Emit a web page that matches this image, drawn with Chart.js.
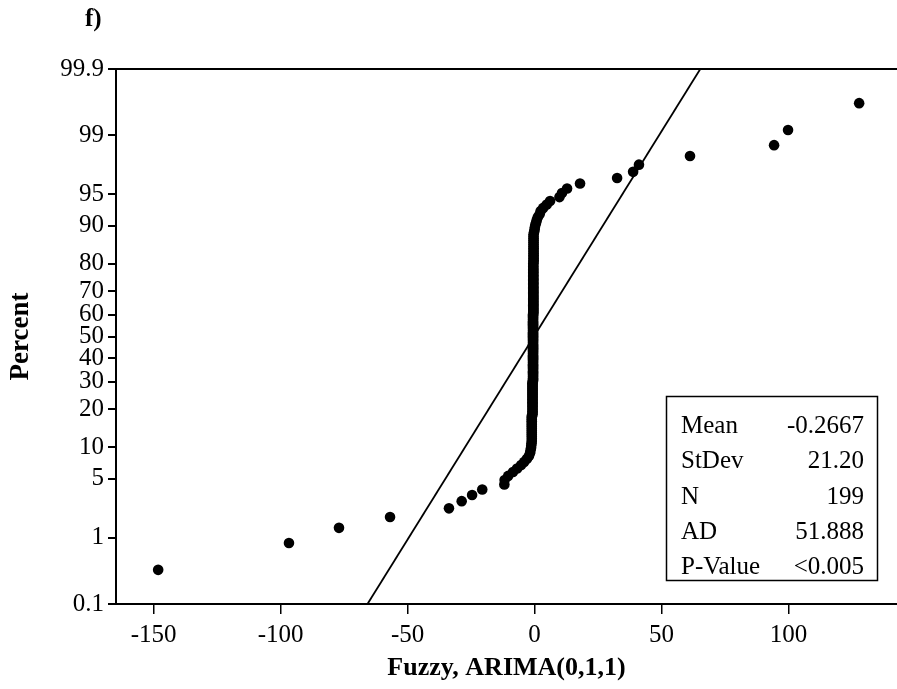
<!DOCTYPE html>
<html><head><meta charset="utf-8">
<script src="https://cdn.jsdelivr.net/npm/chart.js@4.4.1/dist/chart.umd.min.js"></script>
<style>html,body{margin:0;padding:0;background:#fff}#wrap{width:897px;height:689px}</style>
</head><body><div id="wrap"><canvas id="c" width="897" height="689"></canvas></div>
<script>
const chartLabel = 'f)';
const xAxisTitle = 'Fuzzy, ARIMA(0,1,1)';
const yAxisTitle = 'Percent';
const xTickValues = [-150, -100, -50, 0, 50, 100];
const yTickPercents = [0.1, 1, 5, 10, 20, 30, 40, 50, 60, 70, 80, 90, 95, 99, 99.9];
const statLabels = ['Mean', 'StDev', 'N', 'AD', 'P-Value'];
const statValues = ['-0.2667', '21.20', '199', '51.888', '<0.005'];
const fitMean = -0.2667;
const fitStDev = 21.20;
// residuals, sorted ascending
const sortedValues = [
  -148.2, -96.7, -77.0, -56.9, -33.7, -28.7, -24.6, -20.6, -11.9, -11.8,
  -10.4, -8.5, -6.9, -5.3, -4.1, -3.0, -2.2, -1.8,
  -1.6, -1.4, -1.3, -1.2,
  -1.1, -1.1, -1.1, -1.1, -1.1, -1.1, -1.1, -1.1, -1.1, -1.1, -1.1, -1.1, -1.1, -1.1,
  -0.8, -0.8, -0.8, -0.8, -0.8, -0.8, -0.8, -0.8, -0.8, -0.8, -0.8, -0.8,
  -0.8, -0.8, -0.8, -0.8, -0.8, -0.8, -0.8, -0.8, -0.8, -0.8, -0.8, -0.8,
  -0.6, -0.6, -0.6, -0.6, -0.6, -0.6, -0.6, -0.6, -0.6, -0.6, -0.6, -0.6, -0.6, -0.6, -0.6,
  -0.6, -0.6, -0.6, -0.6, -0.6, -0.6, -0.6, -0.6, -0.6, -0.6, -0.6, -0.6, -0.6, -0.6, -0.6,
  -0.6, -0.6, -0.6, -0.6, -0.6, -0.6, -0.6, -0.6, -0.6, -0.6, -0.6, -0.6, -0.6, -0.6, -0.6,
  -0.6, -0.6, -0.6, -0.6, -0.6, -0.6, -0.6, -0.6, -0.6, -0.6, -0.6, -0.6, -0.6, -0.6, -0.6,
  -0.5, -0.5, -0.5, -0.5, -0.5, -0.5, -0.5, -0.5, -0.5, -0.5, -0.5, -0.5, -0.5, -0.5, -0.5, -0.5, -0.5, -0.5, -0.5, -0.5,
  -0.5, -0.5, -0.5, -0.5, -0.5, -0.5, -0.5, -0.5, -0.5, -0.5, -0.5, -0.5, -0.5, -0.5, -0.5, -0.5, -0.5, -0.5, -0.5, -0.5,
  -0.4, -0.4, -0.4, -0.4, -0.4, -0.4, -0.4, -0.4, -0.4, -0.4, -0.4, -0.4, -0.4, -0.4, -0.4, -0.4,
  -0.2, 0.0, 0.1, 0.3, 0.6, 0.9, 1.3, 2.0, 2.4, 3.4,
  4.8, 6.1, 9.8, 10.8, 12.8, 17.9, 32.5, 38.8, 41.1, 61.2,
  94.3, 99.8, 127.8
];

// inverse standard normal CDF (probability-scale transform)
function probit(p) {
  const a = [-3.969683028665376e+01, 2.209460984245205e+02, -2.759285104469687e+02, 1.383577518672690e+02, -3.066479806614716e+01, 2.506628277459239e+00];
  const b = [-5.447609879822406e+01, 1.615858368580409e+02, -1.556989798598866e+02, 6.680131188771972e+01, -1.328068155288572e+01];
  const c = [-7.784894002430293e-03, -3.223964580411365e-01, -2.400758277161838e+00, -2.549732539343734e+00, 4.374664141464968e+00, 2.938163982698783e+00];
  const d = [7.784695709041462e-03, 3.224671290700398e-01, 2.445134137142996e+00, 3.754408661907416e+00];
  const pl = 0.02425, ph = 1 - pl;
  let q, r;
  if (p < pl) { q = Math.sqrt(-2 * Math.log(p)); return (((((c[0]*q+c[1])*q+c[2])*q+c[3])*q+c[4])*q+c[5]) / ((((d[0]*q+d[1])*q+d[2])*q+d[3])*q+1); }
  if (p > ph) { q = Math.sqrt(-2 * Math.log(1 - p)); return -(((((c[0]*q+c[1])*q+c[2])*q+c[3])*q+c[4])*q+c[5]) / ((((d[0]*q+d[1])*q+d[2])*q+d[3])*q+1); }
  q = p - 0.5; r = q * q;
  return (((((a[0]*r+a[1])*r+a[2])*r+a[3])*r+a[4])*r+a[5])*q / (((((b[0]*r+b[1])*r+b[2])*r+b[3])*r+b[4])*r+1);
}

const n = sortedValues.length;
// Minitab median-rank plotting positions
const points = sortedValues.map((v, i) => ({ x: v, y: probit((i + 1 - 0.3) / (n + 0.4)) }));
const zLo = probit(yTickPercents[0] / 100), zHi = probit(yTickPercents[yTickPercents.length - 1] / 100);
const fitLine = [{ x: fitMean + zLo * fitStDev, y: zLo }, { x: fitMean + zHi * fitStDev, y: zHi }];

const FONT = 'Liberation Serif';
Chart.defaults.font.family = FONT;
Chart.defaults.color = '#000';

const extras = {
  id: 'extras',
  afterDraw(chart) {
    const ctx = chart.ctx, a = chart.chartArea;
    ctx.save();
    ctx.strokeStyle = '#000';
    ctx.lineWidth = 2;
    ctx.beginPath();
    ctx.moveTo(a.left - 1, a.top);
    ctx.lineTo(chart.width, a.top);
    ctx.stroke();
    ctx.fillStyle = '#000';
    ctx.font = 'bold 25px "' + FONT + '"';
    ctx.textBaseline = 'alphabetic';
    ctx.textAlign = 'left';
    ctx.fillText(chartLabel, 85, 26);
    // stats box
    ctx.lineWidth = 1.5;
    ctx.fillStyle = '#fff';
    ctx.fillRect(666.5, 396.5, 211, 184);
    ctx.strokeRect(666.5, 396.5, 211, 184);
    ctx.fillStyle = '#000';
    ctx.font = '25px "' + FONT + '"';
    const base = [433, 468.3, 503.6, 538.9, 574.2];
    statLabels.forEach((t, i) => {
      ctx.textAlign = 'left';
      ctx.fillText(t, 681, base[i]);
      ctx.textAlign = 'right';
      ctx.fillText(statValues[i], 864, base[i]);
    });
    ctx.restore();
  }
};

new Chart(document.getElementById('c'), {
  type: 'scatter',
  data: {
    datasets: [
      { data: points, backgroundColor: '#000', borderWidth: 0, pointRadius: 5.3, pointHoverRadius: 5.3 },
      { data: fitLine, showLine: true, borderColor: '#000', borderWidth: 1.8, pointRadius: 0, fill: false }
    ]
  },
  options: {
    responsive: false,
    animation: false,
    events: [],
    layout: { autoPadding: false, padding: { top: 69, right: 0, left: 0, bottom: 0 } },
    plugins: { legend: { display: false }, tooltip: { enabled: false } },
    scales: {
      x: {
        type: 'linear', min: -164.8, max: 142.7,
        afterBuildTicks: s => { s.ticks = xTickValues.map(v => ({ value: v })); },
        afterFit: s => { s.height = 85; s.paddingLeft = 0; s.paddingRight = 0; },
        grid: { display: true, drawOnChartArea: false, drawTicks: true, tickLength: 10, color: '#000', lineWidth: 1.5 },
        border: { display: true, color: '#000', width: 2 },
        ticks: { font: { size: 25 }, color: '#000', padding: 6, maxRotation: 0, autoSkip: false },
        title: { display: true, text: xAxisTitle, font: { size: 26, weight: 'bold' }, color: '#000', padding: { top: 0, bottom: 5 } }
      },
      y: {
        type: 'linear', min: zLo, max: zHi,
        afterBuildTicks: s => { s.ticks = yTickPercents.map(p => ({ value: probit(p / 100) })); },
        afterFit: s => { s.width = 116; s.paddingTop = 0; s.paddingBottom = 0; },
        grid: { display: true, drawOnChartArea: false, drawTicks: true, tickLength: 8, color: '#000', lineWidth: 2 },
        border: { display: true, color: '#000', width: 2 },
        ticks: { font: { size: 25 }, color: '#000', padding: 4, autoSkip: false, callback: (v, i) => String(yTickPercents[i]) },
        title: { display: true, text: yAxisTitle, font: { size: 27, weight: 'bold' }, color: '#000', padding: { top: 5, bottom: 0 } }
      }
    }
  },
  plugins: [extras]
});
</script>
</body></html>
